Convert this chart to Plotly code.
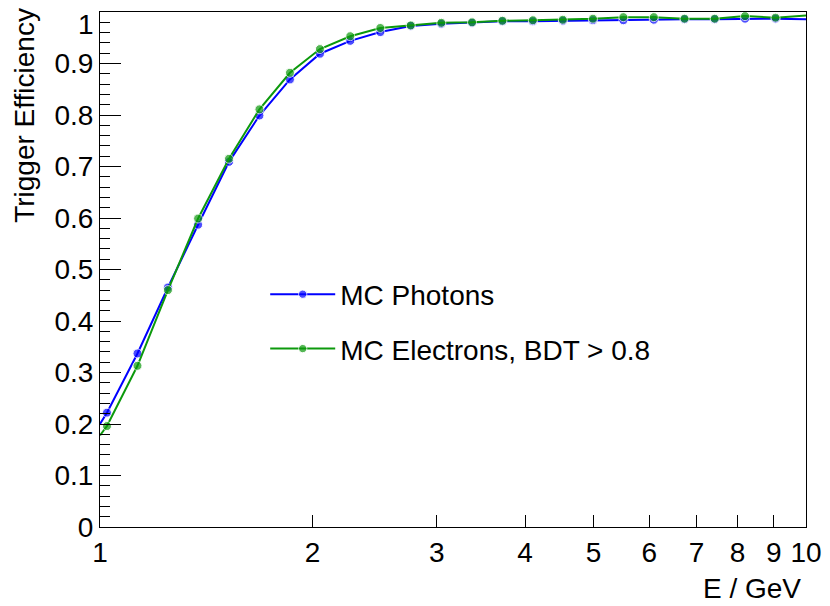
"""Trigger efficiency versus energy for MC photons and MC electrons (BDT > 0.8)."""

from __future__ import annotations

import plotly.graph_objects as go

FONT = "Liberation Sans, Arial, Helvetica, sans-serif"

# bin positions (GeV)
ENERGY = [
    1.023, 1.130, 1.248, 1.377, 1.523, 1.682, 1.858, 2.049, 2.262, 2.495, 2.755, 3.044,
    3.365, 3.715, 4.103, 4.524, 4.991, 5.512, 6.087, 6.729, 7.425, 8.197, 9.054,
]
PHOTON_EFF = [
    0.222, 0.337, 0.465, 0.587, 0.709, 0.799, 0.869, 0.919, 0.944, 0.961, 0.973, 0.977,
    0.979, 0.982, 0.982, 0.983, 0.984, 0.984, 0.985, 0.986, 0.986, 0.987, 0.987,
]
ELECTRON_EFF = [
    0.196, 0.313, 0.460, 0.599, 0.715, 0.811, 0.882, 0.928, 0.953, 0.969, 0.974, 0.979,
    0.980, 0.983, 0.984, 0.985, 0.987, 0.990, 0.990, 0.987, 0.987, 0.992, 0.989,
]
# the curves run on to the frame edges at E = 1 and E = 10
EDGE_E = [1.0, 10.0]
PHOTON_EDGE = [0.200, 0.986]
ELECTRON_EDGE = [0.178, 0.993]

Y_TICKS = [0, 0.1, 0.2, 0.3, 0.4, 0.5, 0.6, 0.7, 0.8, 0.9, 1]
# top label "1" is drawn separately, pushed down inside the frame like ROOT does
Y_LABELS = ["0", "0.1", "0.2", "0.3", "0.4", "0.5", "0.6", "0.7", "0.8", "0.9", ""]
X_TICKS = [1, 2, 3, 4, 5, 6, 7, 8, 9, 10]


def series_trace(name, values, edges, color, group):
    x = [EDGE_E[0]] + ENERGY + [EDGE_E[1]]
    y = [edges[0]] + values + [edges[1]]
    sizes = [0] + [9] * len(ENERGY) + [0]
    return go.Scatter(
        x=x,
        y=y,
        mode="lines+markers",
        name=name,
        legendgroup=group,
        line=dict(color=color, width=2),
        marker=dict(color=color, size=sizes, symbol="circle"),
    )


def build_figure() -> go.Figure:
    fig = go.Figure()
    fig.add_trace(series_trace("MC Photons", PHOTON_EFF, PHOTON_EDGE, "#0000ff", "ph"))
    fig.add_trace(
        series_trace("MC Electrons, BDT > 0.8", ELECTRON_EFF, ELECTRON_EDGE, "#0c990c", "el")
    )

    tick_font = dict(size=28, color="black", family=FONT)
    fig.update_xaxes(
        type="log",
        range=[0, 1],
        tickvals=X_TICKS,
        ticktext=[str(v) for v in X_TICKS],
        ticks="inside",
        ticklen=12,
        tickwidth=1,
        tickcolor="black",
        showline=True,
        linecolor="black",
        linewidth=1,
        mirror=True,
        showgrid=False,
        zeroline=False,
        tickfont=tick_font,
    )
    fig.update_yaxes(
        range=[0, 1],
        tickvals=Y_TICKS,
        ticktext=Y_LABELS,
        ticks="inside",
        ticklen=21,
        tickwidth=1,
        tickcolor="black",
        minor=dict(ticks="inside", ticklen=10, dtick=0.02, tickcolor="black", tickwidth=1),
        showline=True,
        linecolor="black",
        linewidth=1,
        mirror=True,
        showgrid=False,
        zeroline=False,
        tickfont=tick_font,
    )

    fig.add_annotation(
        text="1",
        xref="paper",
        yref="paper",
        x=-0.005,
        y=1.01,
        xanchor="right",
        yanchor="top",
        showarrow=False,
        font=tick_font,
    )
    fig.add_annotation(
        text="Trigger Efficiency",
        textangle=-90,
        xref="paper",
        yref="paper",
        x=-0.107,
        y=1.01,
        xanchor="center",
        yanchor="top",
        borderpad=0,
        showarrow=False,
        font=dict(size=28, color="black", family=FONT),
    )
    fig.add_annotation(
        text="E / GeV",
        xref="paper",
        yref="paper",
        x=0.996,
        y=-0.119,
        xanchor="right",
        yanchor="middle",
        showarrow=False,
        font=dict(size=28, color="black", family=FONT),
    )

    # the page body has an 8px margin; margins place the frame where the reference has it
    fig.update_layout(
        width=822,
        height=598,
        margin=dict(l=92, r=24, t=4, b=79),
        paper_bgcolor="white",
        plot_bgcolor="white",
        font=dict(family=FONT, color="black"),
        legend=dict(
            x=0.234,
            y=0.5,
            xanchor="left",
            yanchor="top",
            bgcolor="rgba(0,0,0,0)",
            font=dict(size=28, color="black", family=FONT),
            itemwidth=65,
            traceorder="grouped",
            tracegroupgap=15,
        ),
    )
    return fig


def main() -> None:
    fig = build_figure()
    fig.write_html("out.html")


if __name__ == "__main__":
    main()
